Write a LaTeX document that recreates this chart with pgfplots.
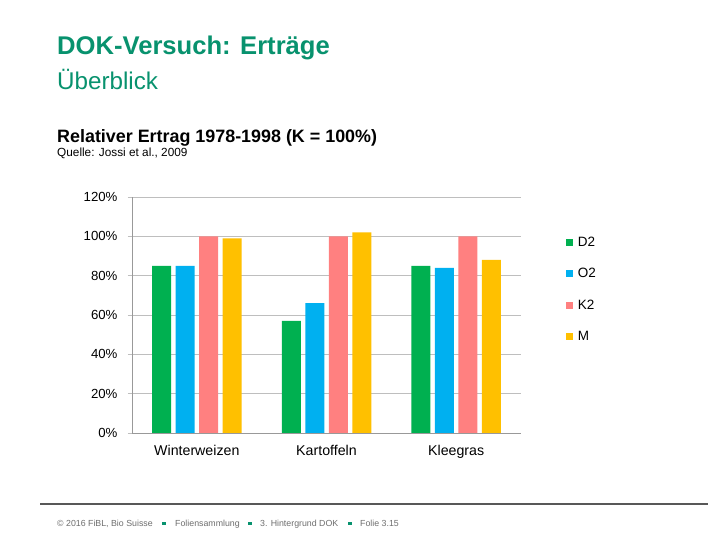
\documentclass[border=0pt]{standalone}
\usepackage{pgfplots}
\pgfplotsset{compat=1.18}
\usepackage{fontspec}
\setmainfont{Liberation Sans}
\definecolor{titlegreen}{RGB}{8,146,110}
\definecolor{cD}{RGB}{0,176,80}
\definecolor{cO}{RGB}{0,176,240}
\definecolor{cK}{RGB}{255,128,128}
\definecolor{cM}{RGB}{255,192,0}
\definecolor{gridgray}{RGB}{190,190,190}
\definecolor{footgray}{RGB}{110,110,110}
\begin{document}
\begin{tikzpicture}[x=1pt,y=1pt]
\fill[white] (0,0) rectangle (720,540);
% titles
\node[anchor=base west,inner sep=0,text=titlegreen,font=\fontsize{25.6}{28}\selectfont\bfseries] at (57,540-55) {DOK-Versuch: Erträge};
\node[anchor=base west,inner sep=0,text=titlegreen,font=\fontsize{24.2}{28}\selectfont] at (57,540-90) {Überblick};
\node[anchor=base west,inner sep=0,font=\fontsize{17.9}{20}\selectfont\bfseries] at (57,540-143) {Relativer Ertrag 1978-1998 (K = 100\%)};
\node[anchor=base west,inner sep=0,font=\fontsize{11.8}{14}\selectfont] at (57,540-157) {Quelle: Jossi et al., 2009};
% footer
\draw[footgray!80!black,line width=1.2pt] (40,540-504) -- (708,540-504);
\begin{scope}[every node/.style={anchor=base west,inner sep=0,text=footgray,font=\fontsize{8.8}{10}\selectfont}]
\node at (57,540-527) {© 2016 FiBL, Bio Suisse};
\node at (175,540-527) {Foliensammlung};
\node at (260,540-527) {3. Hintergrund DOK};
\node at (360,540-527) {Folie 3.15};
\end{scope}
\fill[titlegreen] (162,540-525.5) rectangle +(3.5,3.5);
\fill[titlegreen] (248,540-525.5) rectangle +(3.5,3.5);
\fill[titlegreen] (348,540-525.5) rectangle +(3.5,3.5);
\begin{axis}[
  at={(132pt,107pt)}, anchor=south west,
  scale only axis, width=389pt, height=236pt,
  ybar=4.5pt, bar width=19pt,
  xmin=-0.5, xmax=2.5, ymin=0, ymax=120,
  xtick={0,1,2}, xticklabels={Winterweizen,Kartoffeln,Kleegras},
  extra x ticks={-0.5,0.5,1.5,2.5}, extra x tick labels={},
  extra x tick style={major tick length=5pt, tick style={gray, line width=0.6pt}, grid=none},
  x tick style={draw=none},
  ytick={0,20,...,120},
  yticklabel={\pgfmathprintnumber{\tick}\%},
  ymajorgrids, grid style={gridgray, line width=0.8pt},
  y tick style={gridgray, line width=0.8pt}, major tick length=4pt,
  tick align=outside,
  axis x line*=bottom, axis y line*=left,
  axis line style={gray!80, line width=0.8pt},
  x axis line style={-}, y axis line style={-},
  tick label style={/pgf/number format/assume math mode=true},
  yticklabel style={font=\fontsize{13.2}{15}\selectfont, xshift=-7pt},
  xticklabel style={font=\fontsize{14.2}{16}\selectfont, yshift=-5pt},
  legend style={at={(1.115,0.84)}, anchor=north west, draw=none, fill=none,
    font=\fontsize{13.5}{15}\selectfont, row sep=16.5pt, inner sep=0pt},
  legend cell align=left,
  legend image code/.code={\fill[#1] (0pt,-3.5pt) rectangle (7pt,3.5pt); \path (10pt,0pt);},
  every axis plot/.append style={draw=none},
]
\addplot[fill=cD] coordinates {(0,85) (1,57) (2,85)};
\addplot[fill=cO] coordinates {(0,85) (1,66) (2,84)};
\addplot[fill=cK] coordinates {(0,100) (1,100) (2,100)};
\addplot[fill=cM] coordinates {(0,99) (1,102) (2,88)};
\legend{D2,O2,K2,M}
\end{axis}
\end{tikzpicture}
\end{document}
